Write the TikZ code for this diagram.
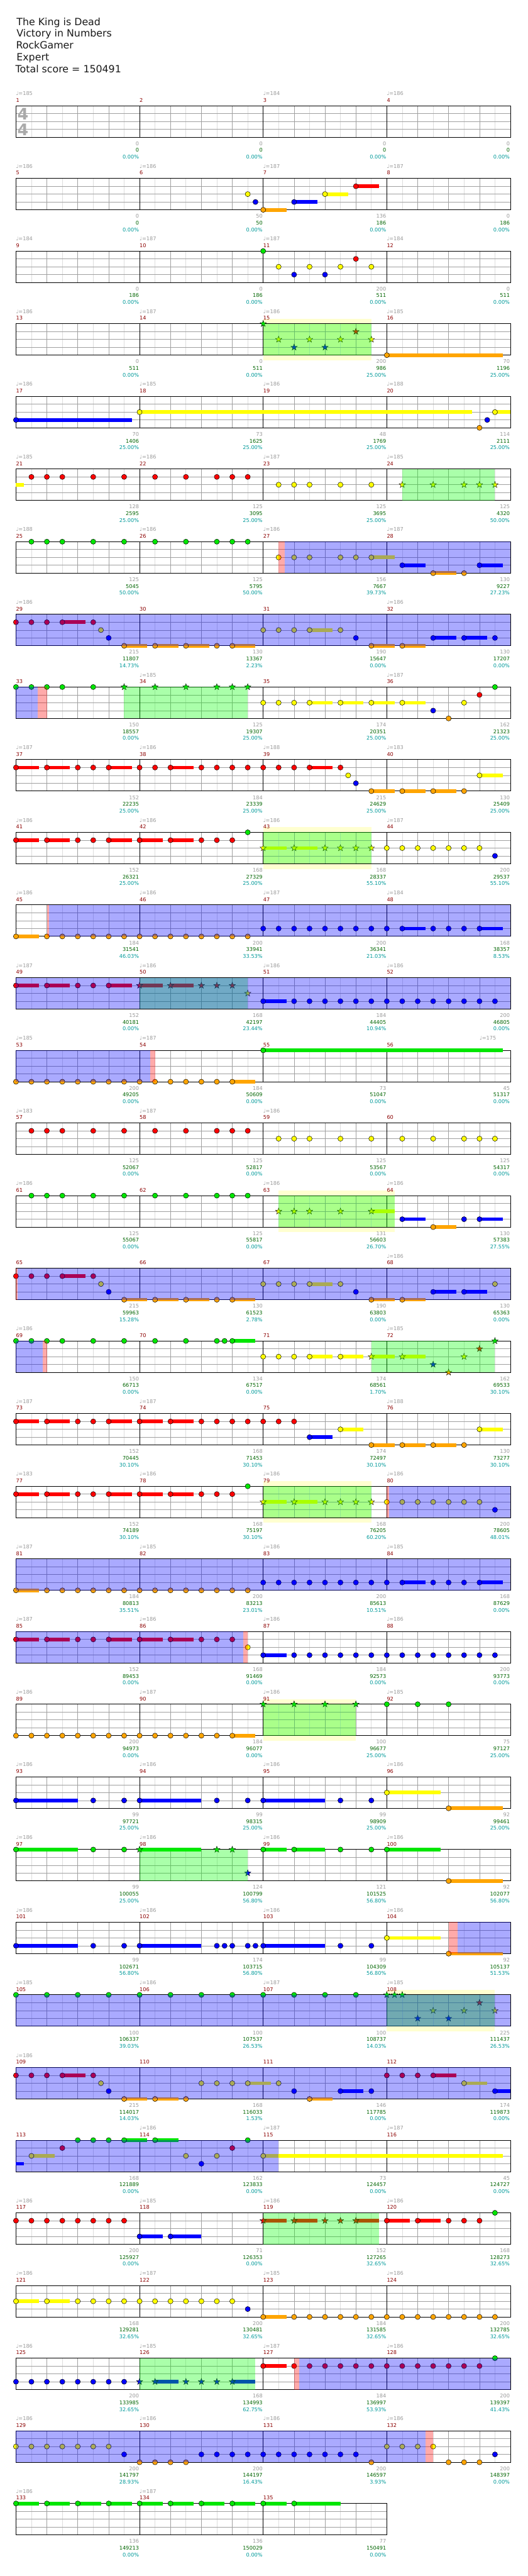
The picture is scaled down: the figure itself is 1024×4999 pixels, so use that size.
\documentclass[tikz,border=0pt]{standalone}
\usepackage{fontspec}
\setmainfont{DejaVu Sans}

\definecolor{lane0}{RGB}{0,230,0}
\definecolor{lane1}{RGB}{255,0,0}
\definecolor{lane2}{RGB}{255,255,0}
\definecolor{lane3}{RGB}{0,0,255}
\definecolor{lane4}{RGB}{255,165,0}
\definecolor{lgray}{RGB}{221,221,221}
\definecolor{mgray}{RGB}{160,160,160}
\definecolor{tgray}{RGB}{153,153,153}
\definecolor{mred}{RGB}{139,0,0}
\definecolor{sgreen}{RGB}{0,100,0}
\definecolor{pcyan}{RGB}{0,153,153}
\definecolor{paley}{RGB}{255,255,208}
\definecolor{sig}{RGB}{170,170,170}

\newcommand\labsize{\fontsize{10}{11}\selectfont}

\tikzset{
  rowat/.style={shift={(31,{205.2+141*(#1-1)})}},
  eighth/.style={draw=lgray, line width=.8pt},
  beat/.style={draw=mgray, line width=.8pt},
  lanel/.style={draw=mgray, line width=.8pt},
  barl/.style={draw=black, line width=.9pt},
  tempo/.style={anchor=base west, inner sep=0pt, text=tgray, font=\labsize},
  mnum/.style={anchor=base west, inner sep=0pt, text=mred, font=\labsize},
  pts/.style={anchor=base east, inner sep=0pt, text=tgray, font=\labsize},
  tot/.style={anchor=base east, inner sep=0pt, text=sgreen, font=\labsize},
  pct/.style={anchor=base east, inner sep=0pt, text=pcyan, font=\labsize},
  headline/.style={anchor=base west, inner sep=0pt, text=black!90, font=\fontsize{19.3}{23}\selectfont},
  tsig/.style={inner sep=0pt, text=sig, font=\fontsize{31}{31}\selectfont\bfseries},
  spstar/.pic={\filldraw[fill=#1, draw=black, line width=.5pt]
    (-90:6.5) -- (-54:2.6) -- (-18:6.5) -- (18:2.6) -- (54:6.5) -- (90:2.6)
    -- (126:6.5) -- (162:2.6) -- (198:6.5) -- (234:2.6) -- cycle;},
}

% staff of #1 measures, 8 eighths each
\newcommand\staff[1]{%
  \pgfmathtruncatemacro\neighths{8*#1}%
  \pgfmathtruncatemacro\nbars{#1-1}%
  \foreach \i in {1,...,\neighths} \draw[eighth] ({30*\i},0) -- ({30*\i},61);
  \foreach \i in {2,4,...,\neighths} \draw[beat] ({30*\i},0) -- ({30*\i},61);
  \foreach \l in {1,2,3} \draw[lanel] (0,{15.25*\l}) -- ({240*#1},{15.25*\l});
  \foreach \m in {1,...,\nbars} \draw[barl] ({240*\m},0) -- ({240*\m},61);
  \draw[line width=1.2pt] (0,0) rectangle ({240*#1},61);
}
% index in row, measure, tempo, points, total, percent
\newcommand\meas[6]{%
  \ifx\relax#3\relax\else\node[tempo] (tmp#2) at ({240*#1},-20) {♩=#3};\fi
  \node[mnum] (num#2) at ({240*#1},-7) {#2};
  \node[pts] (pts#2) at ({240*#1+239},77) {#4};
  \node[tot] (tot#2) at ({240*#1+239},90) {#5};
  \node[pct] (pct#2) at ({240*#1+239},103) {#6\%};
}
% notes: position in eighths, lane, sustain end
\newcommand\nt[2]{\filldraw[fill=lane#2, draw=black, line width=.6pt] ({30*(#1)},{15.25*#2}) circle[radius=5pt];}
\newcommand\sus[3]{\fill[lane#2] ({30*(#1)},{15.25*#2-3.5}) rectangle ({30*(#3)},{15.25*#2+3.5});}
\newcommand\snt[3]{\sus{#1}{#2}{#3}\nt{#1}{#2}}
\newcommand\spn[2]{\pic at ({30*(#1)},{15.25*#2}) {spstar=lane#2};}
\newcommand\sspn[3]{\sus{#1}{#2}{#3}\spn{#1}{#2}}
% phrases and activations
\newcommand\pale[2]{\fill[paley] ({30*(#1)},-10) rectangle ({30*(#2)},71);}
\newcommand\spr[2]{\fill[green, fill opacity=.333] ({30*(#1)},0) rectangle ({30*(#2)},61);}
\newcommand\od[2]{\fill[blue, fill opacity=.333] ({30*(#1)},0) rectangle ({30*(#2)},61);}
\newcommand\pk[2]{\fill[red, fill opacity=.333] ({30*(#1)},0) rectangle ({30*(#2)},61);}

\begin{document}
\begin{tikzpicture}[x=1pt, y=-1pt]
\useasboundingbox (0,0) rectangle (1024,4999);

\node[headline] (song) at (32,49) {The King is Dead};
\node[headline] (band) at (32,72) {Victory in Numbers};
\node[headline] (player) at (31,95) {RockGamer};
\node[headline] (level) at (32,118) {Expert};
\node[headline] (score) at (30,141) {Total score = 150491};

% row 1
\begin{scope}[rowat=1]
  \staff{4}
  \node[tsig] (sigtop) at (13.5,16) {4};
  \node[tsig] (sigbot) at (13.5,46) {4};
  \meas{0}{1}{185}{0}{0}{0.00}
  \meas{1}{2}{}{0}{0}{0.00}
  \meas{2}{3}{184}{0}{0}{0.00}
  \meas{3}{4}{186}{0}{0}{0.00}
\end{scope}

% row 2
\begin{scope}[rowat=2]
  \staff{4}
  \meas{0}{5}{186}{0}{0}{0.00}
  \meas{1}{6}{186}{50}{50}{0.00}
  \meas{2}{7}{187}{136}{186}{0.00}
  \meas{3}{8}{187}{0}{186}{0.00}
  \nt{15}{2} \nt{15.5}{3} \snt{16}{4}{17.5} \snt{18}{3}{19.5} \snt{20}{2}{21.5} \snt{22}{1}{23.5}
\end{scope}

% row 3
\begin{scope}[rowat=3]
  \staff{4}
  \meas{0}{9}{184}{0}{186}{0.00}
  \meas{1}{10}{187}{0}{186}{0.00}
  \meas{2}{11}{187}{200}{511}{0.00}
  \meas{3}{12}{184}{0}{511}{0.00}
  \nt{16}{0} \nt{17}{2} \nt{18}{3} \nt{19}{2} \nt{20}{3} \nt{21}{2} \nt{22}{1} \nt{23}{2}
\end{scope}

% row 4
\begin{scope}[rowat=4]
  \pale{16}{23}
  \staff{4}
  \meas{0}{13}{186}{0}{511}{0.00}
  \meas{1}{14}{187}{0}{511}{0.00}
  \meas{2}{15}{186}{200}{986}{25.00}
  \meas{3}{16}{185}{70}{1196}{25.00}
  \spn{16}{0} \spn{17}{2} \spn{18}{3} \spn{19}{2} \spn{20}{3} \spn{21}{2} \spn{22}{1} \spn{23}{2}
  \snt{24}{4}{31.5}
  \spr{16}{23}
\end{scope}

% row 5
\begin{scope}[rowat=5]
  \staff{4}
  \meas{0}{17}{186}{70}{1406}{25.00}
  \meas{1}{18}{185}{73}{1625}{25.00}
  \meas{2}{19}{186}{48}{1769}{25.00}
  \meas{3}{20}{188}{114}{2111}{25.00}
  \snt{0}{3}{7.5} \snt{8}{2}{29.5} \nt{30}{4} \nt{30.5}{3} \snt{31}{2}{32}
\end{scope}

% row 6
\begin{scope}[rowat=6]
  \staff{4}
  \meas{0}{21}{185}{128}{2595}{25.00}
  \meas{1}{22}{186}{125}{3095}{25.00}
  \meas{2}{23}{187}{125}{3695}{25.00}
  \meas{3}{24}{185}{125}{4320}{50.00}
  \sus{0}{2}{0.5}
  \foreach \p in {1,2,3,5,7,9,11,13,14,15} {\nt{\p}{1}}
  \foreach \p in {17,18,19,21,23} {\nt{\p}{2}}
  \foreach \p in {25,27,29,30,31} {\spn{\p}{2}}
  \spr{25}{31}
\end{scope}

% row 7
\begin{scope}[rowat=7]
  \staff{4}
  \meas{0}{25}{188}{125}{5045}{50.00}
  \meas{1}{26}{186}{125}{5795}{50.00}
  \meas{2}{27}{186}{156}{7667}{39.73}
  \meas{3}{28}{187}{130}{9227}{27.23}
  \foreach \p in {1,2,3,5,7,9,11,13,14,15} {\nt{\p}{0}}
  \foreach \p in {17,18,19,21,22} {\nt{\p}{2}}
  \snt{23}{2}{24.5} \snt{25}{3}{26.5} \snt{27}{4}{28.5} \nt{29}{4} \snt{30}{3}{31.5}
  \pk{17}{17.4} \od{17.4}{32}
\end{scope}

% row 8
\begin{scope}[rowat=8]
  \staff{4}
  \meas{0}{29}{186}{215}{11807}{14.73}
  \meas{1}{30}{}{130}{13367}{2.23}
  \meas{2}{31}{}{190}{15647}{0.00}
  \meas{3}{32}{186}{130}{17207}{0.00}
  \nt{0}{1} \nt{1}{1} \nt{2}{1} \snt{3}{1}{4.5} \nt{5}{1} \nt{5.5}{2} \nt{6}{3}
  \snt{7}{4}{8.5} \snt{9}{4}{10.5} \snt{11}{4}{12.5} \nt{13}{4} \snt{14}{4}{15.5}
  \nt{16}{2} \nt{17}{2} \nt{18}{2} \snt{19}{2}{20.5} \nt{21}{2} \nt{22}{3}
  \snt{23}{4}{24.5} \snt{25}{4}{26.5} \snt{27}{3}{28.5} \snt{29}{3}{30.5} \nt{31}{3}
  \od{0}{32}
\end{scope}

% row 9
\begin{scope}[rowat=9]
  \staff{4}
  \meas{0}{33}{}{150}{18557}{0.00}
  \meas{1}{34}{185}{125}{19307}{25.00}
  \meas{2}{35}{}{174}{20351}{25.00}
  \meas{3}{36}{187}{162}{21323}{25.00}
  \foreach \p in {0,1,2,3,5} {\nt{\p}{0}}
  \foreach \p in {7,9,11,13,14,15} {\spn{\p}{0}}
  \nt{16}{2} \nt{17}{2} \nt{18}{2} \snt{19}{2}{20.5} \snt{21}{2}{22.5} \snt{23}{2}{24.5} \snt{25}{2}{26.5}
  \nt{27}{3} \nt{28}{4} \nt{29}{2} \nt{30}{1} \nt{31}{0}
  \spr{7}{15} \od{0}{1.4} \pk{1.4}{2}
\end{scope}

% row 10
\begin{scope}[rowat=10]
  \staff{4}
  \meas{0}{37}{187}{152}{22235}{25.00}
  \meas{1}{38}{186}{184}{23339}{25.00}
  \meas{2}{39}{188}{215}{24629}{25.00}
  \meas{3}{40}{183}{130}{25409}{25.00}
  \snt{0}{1}{1.5} \snt{2}{1}{3.5} \nt{4}{1} \nt{5}{1} \snt{6}{1}{7.5} \nt{8}{1} \nt{9}{1} \snt{10}{1}{11.5}
  \foreach \p in {12,...,18} {\nt{\p}{1}}
  \snt{19}{1}{20.5} \nt{21}{1} \nt{21.5}{2} \nt{22}{3}
  \snt{23}{4}{24.5} \snt{25}{4}{26.5} \snt{27}{4}{28.5} \nt{29}{4} \snt{30}{2}{31.5}
\end{scope}

% row 11
\begin{scope}[rowat=11]
  \pale{16}{23}
  \staff{4}
  \meas{0}{41}{186}{152}{26321}{25.00}
  \meas{1}{42}{186}{168}{27329}{25.00}
  \meas{2}{43}{186}{168}{28337}{55.10}
  \meas{3}{44}{187}{200}{29537}{55.10}
  \snt{0}{1}{1.5} \snt{2}{1}{3.5} \nt{4}{1} \nt{5}{1} \snt{6}{1}{7.5} \snt{8}{1}{9.5} \snt{10}{1}{11.5}
  \nt{12}{1} \nt{13}{1} \nt{14}{1} \nt{15}{0}
  \sspn{16}{2}{17.5} \sspn{18}{2}{19.5}
  \foreach \p in {20,...,23} {\spn{\p}{2}}
  \foreach \p in {24,...,30} {\nt{\p}{2}}
  \nt{31}{3}
  \spr{16}{23}
\end{scope}

% row 12
\begin{scope}[rowat=12]
  \staff{4}
  \meas{0}{45}{186}{184}{31541}{46.03}
  \meas{1}{46}{186}{200}{33941}{33.53}
  \meas{2}{47}{187}{200}{36341}{21.03}
  \meas{3}{48}{184}{168}{38357}{8.53}
  \snt{0}{4}{1.5}
  \foreach \p in {2,...,15} {\nt{\p}{4}}
  \foreach \p in {16,...,24} {\nt{\p}{3}}
  \snt{25}{3}{26.5} \nt{27}{3} \nt{28}{3} \nt{29}{3} \snt{30}{3}{31.5}
  \pk{2}{2.15} \od{2.15}{32}
\end{scope}

% row 13
\begin{scope}[rowat=13]
  \staff{4}
  \meas{0}{49}{187}{152}{40181}{0.00}
  \meas{1}{50}{186}{168}{42197}{23.44}
  \meas{2}{51}{186}{184}{44405}{10.94}
  \meas{3}{52}{186}{200}{46805}{0.00}
  \snt{0}{1}{1.5} \snt{2}{1}{3.5} \nt{4}{1} \nt{5}{1} \snt{6}{1}{7.5}
  \sspn{8}{1}{9.5} \sspn{10}{1}{11.5} \spn{12}{1} \spn{13}{1} \spn{14}{1} \spn{15}{2}
  \snt{16}{3}{17.5}
  \foreach \p in {18,...,31} {\nt{\p}{3}}
  \spr{8}{15} \od{0}{32}
\end{scope}

% row 14
\begin{scope}[rowat=14]
  \staff{4}
  \meas{0}{53}{185}{200}{49205}{0.00}
  \meas{1}{54}{187}{184}{50609}{0.00}
  \meas{2}{55}{}{73}{51047}{0.00}
  \meas{3}{56}{}{45}{51317}{0.00}
  \node[tempo] (tmp56b) at (900,-20) {♩=175};
  \foreach \p in {0,...,13} {\nt{\p}{4}}
  \snt{14}{4}{15.5} \snt{16}{0}{31.5}
  \od{0}{8.67} \pk{8.67}{9}
\end{scope}

% row 15
\begin{scope}[rowat=15]
  \staff{4}
  \meas{0}{57}{183}{125}{52067}{0.00}
  \meas{1}{58}{187}{125}{52817}{0.00}
  \meas{2}{59}{186}{125}{53567}{0.00}
  \meas{3}{60}{}{125}{54317}{0.00}
  \foreach \p in {1,2,3,5,7,9,11,13,14,15} {\nt{\p}{1}}
  \foreach \p in {17,18,19,21,23,25,27,29,30,31} {\nt{\p}{2}}
\end{scope}

% row 16
\begin{scope}[rowat=16]
  \pale{17}{24.5}
  \staff{4}
  \meas{0}{61}{186}{125}{55067}{0.00}
  \meas{1}{62}{}{125}{55817}{0.00}
  \meas{2}{63}{186}{131}{56603}{26.70}
  \meas{3}{64}{186}{130}{57383}{27.55}
  \foreach \p in {1,2,3,5,7,9,11,13,14,15} {\nt{\p}{0}}
  \foreach \p in {17,18,19,21} {\spn{\p}{2}}
  \sspn{23}{2}{24.5} \snt{25}{3}{26.5} \snt{27}{4}{28.5} \nt{29}{3} \snt{30}{3}{31.5}
  \spr{17}{24.5}
\end{scope}

% row 17
\begin{scope}[rowat=17]
  \staff{4}
  \meas{0}{65}{}{215}{59963}{15.28}
  \meas{1}{66}{}{130}{61523}{2.78}
  \meas{2}{67}{}{190}{63803}{0.00}
  \meas{3}{68}{186}{130}{65363}{0.00}
  \nt{0}{1} \nt{1}{1} \nt{2}{1} \snt{3}{1}{4.5} \nt{5}{1} \nt{5.5}{2} \nt{6}{3}
  \snt{7}{4}{8.5} \snt{9}{4}{10.5} \snt{11}{4}{12.5} \nt{13}{4} \snt{14}{4}{15.5}
  \nt{16}{2} \nt{17}{2} \nt{18}{2} \snt{19}{2}{20.5} \nt{21}{2} \nt{22}{3}
  \snt{23}{4}{24.5} \snt{25}{4}{26.5} \snt{27}{3}{28.5} \snt{29}{3}{30.5} \nt{31}{2}
  \pk{0}{0.1} \od{0.1}{32}
\end{scope}

% row 18
\begin{scope}[rowat=18]
  \staff{4}
  \meas{0}{69}{186}{150}{66713}{0.00}
  \meas{1}{70}{}{134}{67517}{0.00}
  \meas{2}{71}{}{174}{68561}{1.70}
  \meas{3}{72}{185}{162}{69533}{30.10}
  \foreach \p in {0,1,2,3,5,7,9,11,13,13.5} {\nt{\p}{0}}
  \snt{14}{0}{15.5}
  \nt{16}{2} \nt{17}{2} \nt{18}{2} \snt{19}{2}{20.5} \snt{21}{2}{22.5}
  \sspn{23}{2}{24.5} \sspn{25}{2}{26.5} \spn{27}{3} \spn{28}{4} \spn{29}{2} \spn{30}{1} \spn{31}{0}
  \spr{23}{31} \od{0}{1.74} \pk{1.74}{2}
\end{scope}

% row 19
\begin{scope}[rowat=19]
  \staff{4}
  \meas{0}{73}{187}{152}{70445}{30.10}
  \meas{1}{74}{187}{168}{71453}{30.10}
  \meas{2}{75}{}{174}{72497}{30.10}
  \meas{3}{76}{188}{130}{73277}{30.10}
  \snt{0}{1}{1.5} \snt{2}{1}{3.5} \nt{4}{1} \nt{5}{1} \snt{6}{1}{7.5} \snt{8}{1}{9.5} \snt{10}{1}{11.5}
  \foreach \p in {12,...,18} {\nt{\p}{1}}
  \snt{19}{3}{20.5} \snt{21}{2}{22.5}
  \snt{23}{4}{24.5} \snt{25}{4}{26.5} \snt{27}{4}{28.5} \nt{29}{4} \snt{30}{2}{31.5}
\end{scope}

% row 20
\begin{scope}[rowat=20]
  \pale{16}{23}
  \staff{4}
  \meas{0}{77}{183}{152}{74189}{30.10}
  \meas{1}{78}{186}{168}{75197}{30.10}
  \meas{2}{79}{186}{168}{76205}{60.20}
  \meas{3}{80}{186}{200}{78605}{48.01}
  \snt{0}{1}{1.5} \snt{2}{1}{3.5} \nt{4}{1} \nt{5}{1} \snt{6}{1}{7.5} \snt{8}{1}{9.5} \snt{10}{1}{11.5}
  \nt{12}{1} \nt{13}{1} \nt{14}{1} \nt{15}{0}
  \sspn{16}{2}{17.5} \sspn{18}{2}{19.5}
  \foreach \p in {20,...,23} {\spn{\p}{2}}
  \foreach \p in {24,...,30} {\nt{\p}{2}}
  \nt{31}{3}
  \spr{16}{23} \pk{24}{24.15} \od{24.15}{32}
\end{scope}

% row 21
\begin{scope}[rowat=21]
  \staff{4}
  \meas{0}{81}{187}{184}{80813}{35.51}
  \meas{1}{82}{185}{200}{83213}{23.01}
  \meas{2}{83}{186}{200}{85613}{10.51}
  \meas{3}{84}{185}{168}{87629}{0.00}
  \snt{0}{4}{1.5}
  \foreach \p in {2,...,15} {\nt{\p}{4}}
  \foreach \p in {16,...,24} {\nt{\p}{3}}
  \snt{25}{3}{26.5} \nt{27}{3} \nt{28}{3} \nt{29}{3} \snt{30}{3}{31.5}
  \od{0}{32}
\end{scope}

% row 22
\begin{scope}[rowat=22]
  \staff{4}
  \meas{0}{85}{187}{152}{89453}{0.00}
  \meas{1}{86}{186}{168}{91469}{0.00}
  \meas{2}{87}{186}{184}{92573}{0.00}
  \meas{3}{88}{186}{200}{93773}{0.00}
  \snt{0}{1}{1.5} \snt{2}{1}{3.5} \nt{4}{1} \nt{5}{1} \snt{6}{1}{7.5} \snt{8}{1}{9.5} \snt{10}{1}{11.5}
  \nt{12}{1} \nt{13}{1} \nt{14}{1} \nt{15}{2}
  \snt{16}{3}{17.5}
  \foreach \p in {18,...,31} {\nt{\p}{3}}
  \od{0}{14.7} \pk{14.7}{15}
\end{scope}

% row 23
\begin{scope}[rowat=23]
  \pale{16}{22}
  \staff{4}
  \meas{0}{89}{186}{200}{94973}{0.00}
  \meas{1}{90}{187}{184}{96077}{0.00}
  \meas{2}{91}{186}{100}{96677}{25.00}
  \meas{3}{92}{185}{75}{97127}{25.00}
  \foreach \p in {0,...,13} {\nt{\p}{4}}
  \snt{14}{4}{15.5}
  \foreach \p in {16,18,20,22} {\spn{\p}{0}}
  \foreach \p in {24,26,28} {\nt{\p}{0}}
  \spr{16}{22}
\end{scope}

% row 24
\begin{scope}[rowat=24]
  \staff{4}
  \meas{0}{93}{186}{99}{97721}{25.00}
  \meas{1}{94}{186}{99}{98315}{25.00}
  \meas{2}{95}{186}{99}{98909}{25.00}
  \meas{3}{96}{186}{92}{99461}{25.00}
  \snt{0}{3}{4} \nt{5}{3} \nt{7}{3} \snt{8}{3}{12} \nt{13}{3} \nt{15}{3}
  \snt{16}{3}{20} \nt{21}{3} \nt{23}{3} \snt{24}{2}{27.5} \snt{28}{4}{31.5}
\end{scope}

% row 25
\begin{scope}[rowat=25]
  \staff{4}
  \meas{0}{97}{186}{99}{100055}{25.00}
  \meas{1}{98}{186}{124}{100799}{56.80}
  \meas{2}{99}{186}{121}{101525}{56.80}
  \meas{3}{100}{186}{92}{102077}{56.80}
  \snt{0}{0}{4} \nt{5}{0} \nt{7}{0} \sspn{8}{0}{12} \spn{13}{0} \spn{14}{0} \spn{15}{3}
  \snt{16}{0}{17.5} \snt{18}{0}{20} \nt{21}{0} \nt{23}{0} \snt{24}{0}{27.5} \snt{28}{4}{31.5}
  \spr{8}{15}
\end{scope}

% row 26
\begin{scope}[rowat=26]
  \staff{4}
  \meas{0}{101}{186}{99}{102671}{56.80}
  \meas{1}{102}{186}{174}{103715}{56.80}
  \meas{2}{103}{186}{99}{104309}{56.80}
  \meas{3}{104}{186}{92}{105137}{51.53}
  \snt{0}{3}{4} \nt{5}{3} \nt{7}{3} \snt{8}{3}{12}
  \foreach \p in {13,13.5,14,15,15.5} {\nt{\p}{3}}
  \snt{16}{3}{20} \nt{21}{3} \nt{23}{3} \snt{24}{2}{27.5} \snt{28}{4}{31.5}
  \pk{28}{28.6} \od{28.6}{32}
\end{scope}

% row 27
\begin{scope}[rowat=27]
  \pale{24}{31}
  \staff{4}
  \meas{0}{105}{185}{100}{106337}{39.03}
  \meas{1}{106}{186}{100}{107537}{26.53}
  \meas{2}{107}{187}{100}{108737}{14.03}
  \meas{3}{108}{185}{225}{111437}{26.53}
  \foreach \p in {0,2,...,22} {\nt{\p}{0}}
  \spn{24}{0} \spn{24.5}{0} \spn{25}{0} \spn{26}{3} \spn{27}{2} \spn{28}{3} \spn{29}{2} \spn{30}{1} \spn{31}{2}
  \spr{24}{31} \od{0}{32}
\end{scope}

% row 28
\begin{scope}[rowat=28]
  \staff{4}
  \meas{0}{109}{186}{215}{114017}{14.03}
  \meas{1}{110}{}{168}{116033}{1.53}
  \meas{2}{111}{}{146}{117785}{0.00}
  \meas{3}{112}{}{174}{119873}{0.00}
  \nt{0}{1} \nt{1}{1} \nt{2}{1} \snt{3}{1}{4.5} \nt{5}{1} \nt{5.5}{2} \nt{6}{3}
  \snt{7}{4}{8.5} \snt{9}{4}{10.5} \nt{11}{4}
  \nt{12}{2} \nt{13}{2} \nt{14}{2} \snt{15}{2}{16.5} \nt{17}{2} \nt{18}{3}
  \snt{19}{4}{20.5} \snt{21}{3}{22.5} \nt{23}{3}
  \nt{24}{1} \nt{25}{1} \nt{26}{1} \snt{27}{1}{28.5} \snt{29}{2}{30.5} \snt{31}{3}{32}
  \od{0}{32}
\end{scope}

% row 29
\begin{scope}[rowat=29]
  \staff{4}
  \meas{0}{113}{}{168}{121889}{0.00}
  \meas{1}{114}{186}{162}{123833}{0.00}
  \meas{2}{115}{187}{73}{124457}{0.00}
  \meas{3}{116}{187}{45}{124727}{0.00}
  \sus{0}{3}{0.5} \snt{1}{2}{2.5} \nt{3}{1}
  \nt{4}{0} \nt{5}{0} \nt{6}{0} \snt{7}{0}{8.5} \snt{9}{0}{10.5}
  \nt{11}{2} \nt{12}{3} \nt{13}{2} \nt{14}{1} \nt{15}{0} \snt{16}{2}{31.5}
  \od{0}{17}
\end{scope}

% row 30
\begin{scope}[rowat=30]
  \staff{4}
  \meas{0}{117}{186}{200}{125927}{0.00}
  \meas{1}{118}{185}{71}{126353}{0.00}
  \meas{2}{119}{186}{152}{127265}{32.65}
  \meas{3}{120}{186}{168}{128273}{32.65}
  \foreach \p in {0,...,7} {\nt{\p}{1}}
  \snt{8}{3}{9.5} \snt{10}{3}{12}
  \sspn{16}{1}{17.5} \sspn{18}{1}{19.5} \spn{20}{1} \spn{21}{1} \sspn{22}{1}{23.5}
  \snt{24}{1}{25.5} \snt{26}{1}{27.5} \nt{28}{1} \nt{29}{1} \nt{30}{1} \nt{31}{0}
  \spr{16}{23.5}
\end{scope}

% row 31
\begin{scope}[rowat=31]
  \staff{4}
  \meas{0}{121}{186}{168}{129281}{32.65}
  \meas{1}{122}{187}{200}{130481}{32.65}
  \meas{2}{123}{185}{184}{131585}{32.65}
  \meas{3}{124}{186}{200}{132785}{32.65}
  \snt{0}{2}{1.5} \snt{2}{2}{3.5}
  \foreach \p in {4,...,14} {\nt{\p}{2}}
  \nt{15}{3} \snt{16}{4}{17.5}
  \foreach \p in {18,...,31} {\nt{\p}{4}}
\end{scope}

% row 32
\begin{scope}[rowat=32]
  \staff{4}
  \meas{0}{125}{186}{200}{133985}{32.65}
  \meas{1}{126}{185}{168}{134993}{62.75}
  \meas{2}{127}{187}{184}{136997}{53.93}
  \meas{3}{128}{186}{200}{139397}{41.43}
  \foreach \p in {0,...,7} {\nt{\p}{3}}
  \spn{8}{3} \sspn{9}{3}{10.5} \spn{11}{3} \spn{12}{3} \spn{13}{3} \sspn{14}{3}{15.5}
  \snt{16}{1}{17.5}
  \foreach \p in {18,...,30} {\nt{\p}{1}}
  \nt{31}{0}
  \spr{8}{15.5} \pk{18}{18.33} \od{18.33}{32}
\end{scope}

% row 33
\begin{scope}[rowat=33]
  \staff{4}
  \meas{0}{129}{186}{200}{141797}{28.93}
  \meas{1}{130}{186}{200}{144197}{16.43}
  \meas{2}{131}{186}{200}{146597}{3.93}
  \meas{3}{132}{186}{200}{148397}{0.00}
  \foreach \p in {0,...,6} {\nt{\p}{2}}
  \nt{7}{3}
  \foreach \p in {8,...,11} {\nt{\p}{4}}
  \foreach \p in {12,...,22} {\nt{\p}{3}}
  \nt{23}{4}
  \foreach \p in {24,...,27} {\nt{\p}{2}}
  \foreach \p in {28,29,30} {\nt{\p}{4}}
  \nt{31}{3}
  \od{0}{26.5} \pk{26.5}{27}
\end{scope}

% row 34
\begin{scope}[rowat=34]
  \staff{3}
  \meas{0}{133}{186}{136}{149213}{0.00}
  \meas{1}{134}{187}{136}{150029}{0.00}
  \meas{2}{135}{}{77}{150491}{0.00}
  \foreach \p in {0,2,...,16} {\snt{\p}{0}{\p+1.5}}
  \snt{18}{0}{21}
\end{scope}

\end{tikzpicture}
\end{document}
